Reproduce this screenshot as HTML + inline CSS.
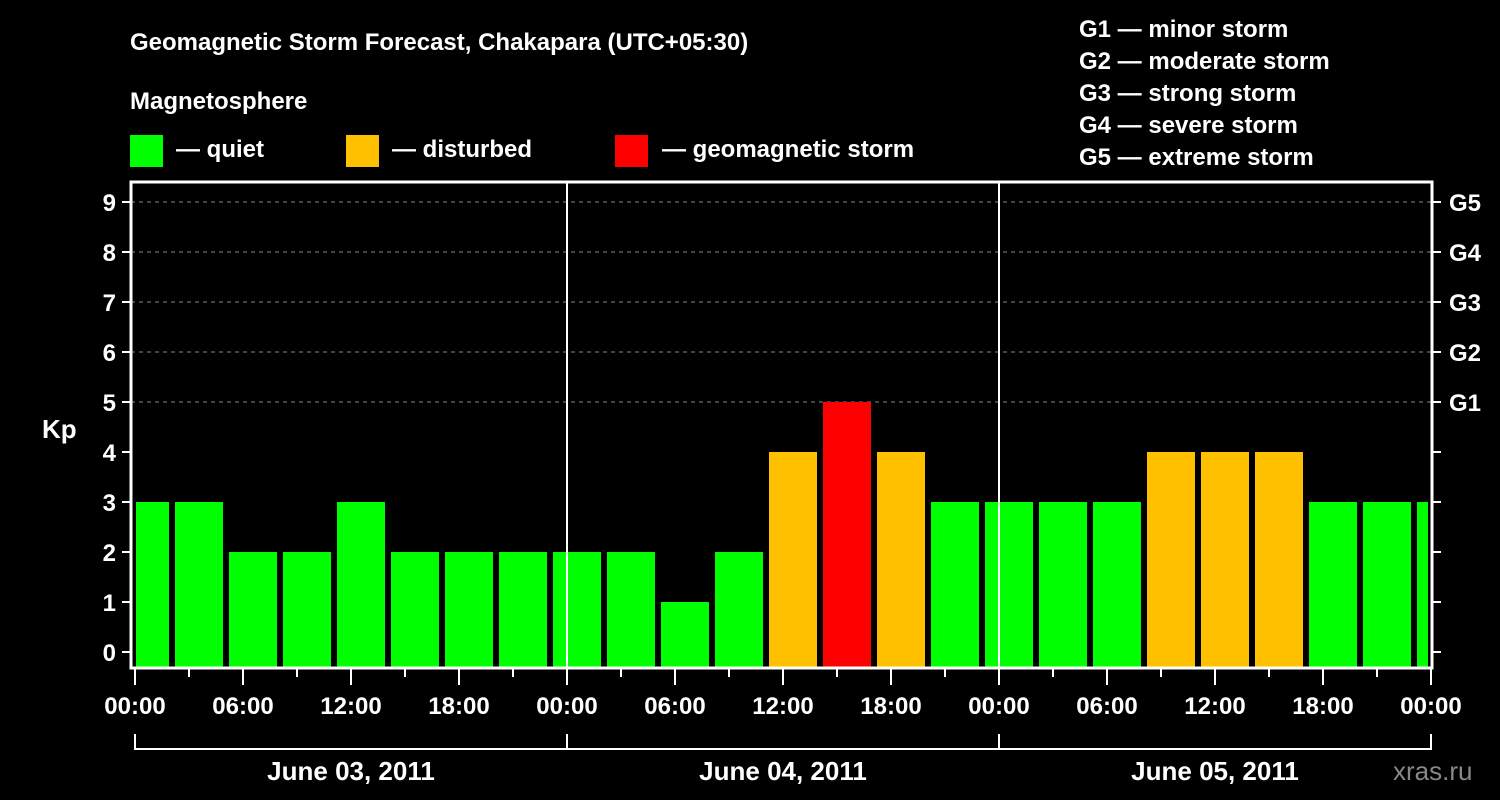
<!DOCTYPE html>
<html><head><meta charset="utf-8"><style>
html,body{margin:0;padding:0;background:#000;}
svg{display:block;font-family:"Liberation Sans",Arial,sans-serif;font-weight:bold;}
</style></head><body>
<svg id="chart" width="1500" height="800" viewBox="0 0 1500 800">
<text x="130" y="50" fill="#fff" font-size="24">Geomagnetic Storm Forecast, Chakapara (UTC+05:30)</text>
<text x="130" y="109" fill="#fff" font-size="24">Magnetosphere</text>
<g>
<rect x="130" y="135" width="33" height="32" fill="#00ff00"/>
<text x="176" y="157" fill="#fff" font-size="24">— quiet</text>
<rect x="346" y="135" width="33" height="32" fill="#ffc000"/>
<text x="392" y="157" fill="#fff" font-size="24">— disturbed</text>
<rect x="615" y="135" width="33" height="32" fill="#ff0000"/>
<text x="662" y="157" fill="#fff" font-size="24">— geomagnetic storm</text>
</g>
<g fill="#fff" font-size="24">
<text x="1079" y="37">G1 — minor storm</text>
<text x="1079" y="69">G2 — moderate storm</text>
<text x="1079" y="101">G3 — strong storm</text>
<text x="1079" y="133">G4 — severe storm</text>
<text x="1079" y="165">G5 — extreme storm</text>
</g>
<text x="42" y="438" fill="#fff" font-size="26">Kp</text>
<g id="grid"></g><g id="bars"></g><g id="axes"></g>
<text x="1393" y="780" fill="#888" font-size="26" font-weight="normal">xras.ru</text>
</svg>
<script>
const kpValues=[3,3,2,2,3,2,2,2,2,2,1,2,4,5,4,3,3,3,3,4,4,4,3,3,3];
const yTicks=[0,1,2,3,4,5,6,7,8,9];
const gLabels=["G1","G2","G3","G4","G5"];
const hourLabels=["00:00","06:00","12:00","18:00"];
const dayLabels=["June 03, 2011","June 04, 2011","June 05, 2011"];
const NS="http://www.w3.org/2000/svg";
const X0=135,PXH=18,L=131,R=1432,T=182,B=668;
const y=v=>652-50*v;
const x=h=>X0+h*PXH;
function mk(tag,attrs,parent,txt){const e=document.createElementNS(NS,tag);for(const k in attrs)e.setAttribute(k,attrs[k]);if(txt!==undefined)e.textContent=txt;parent.appendChild(e);return e;}
const grid=document.getElementById('grid'),bars=document.getElementById('bars'),axes=document.getElementById('axes');
yTicks.forEach(v=>{
 if(v>=5){const g=mk('line',{x1:L,x2:R,y1:y(v),y2:y(v),stroke:'#888','stroke-dasharray':'4,4','stroke-width':1},grid);
 
 }
 const t=mk('line',{x1:122,x2:L,y1:y(v),y2:y(v),stroke:'#fff','stroke-width':2},axes);
 
 
 const l=mk('text',{x:116,y:y(v)+9,fill:'#fff','font-size':24,'text-anchor':'end'},axes,String(v));
 
 
 const rt=mk('line',{x1:R,x2:1441,y1:y(v),y2:y(v),stroke:'#fff','stroke-width':2},axes);
 
 
 if(v>=5){const gl=mk('text',{x:1449,y:y(v)+9,fill:'#fff','font-size':24},axes,gLabels[v-5]);
 
 }
});
// bars: 3-hour intervals offset by 5:30 timezone, first starts at -0.833h
kpValues.forEach((v,i)=>{
 let h0=-5/6+3*i, x1=x(h0)+1, x2=x(h0+3)-5;
 x1=Math.max(x1,136); x2=Math.min(x2,1428);
 const c=v>=5?'#ff0000':(v>=4?'#ffc000':'#00ff00');
 const r=mk('rect',{x:x1,y:y(v),width:x2-x1,height:667-y(v),fill:c},bars);
 
 
});
// day separators
[1,2].forEach(d=>{const s=mk('line',{x1:x(24*d),x2:x(24*d),y1:T,y2:B,stroke:'#fff','stroke-width':2},axes);
 
 });
const fr=mk('path',{d:`M${L} ${B} V${T} H${R} V${B} Z`,fill:'none',stroke:'#fff','stroke-width':3},axes);


for(let h=0;h<=72;h+=3){
 const major=h%6===0;
 const tk=mk('line',{x1:x(h),x2:x(h),y1:B,y2:major?685:677,stroke:'#fff','stroke-width':2},axes);
 
 
 if(major){const lb=mk('text',{x:x(h),y:714,fill:'#fff','font-size':24,'text-anchor':'middle'},axes,hourLabels[(h/6)%4]);
 
 }
}
const br=mk('path',{d:`M${x(0)} 734 V749 H${x(72)} V734 M${x(24)} 734 V749 M${x(48)} 734 V749`,fill:'none',stroke:'#fff','stroke-width':2},axes);


dayLabels.forEach((d,i)=>{const t=mk('text',{x:x(24*i+12),y:780,fill:'#fff','font-size':26,'text-anchor':'middle'},axes,d);
 
 });
</script>
</body></html>
